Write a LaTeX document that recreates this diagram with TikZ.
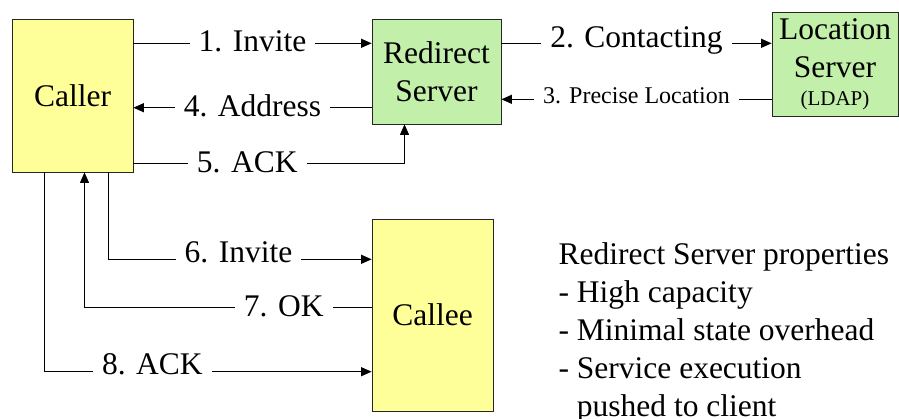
\documentclass[tikz,border=0pt]{standalone}
\usepackage{fontspec}
\setmainfont{Liberation Serif}
\usetikzlibrary{arrows.meta}

\definecolor{boxyellow}{RGB}{255,255,153}
\definecolor{boxgreen}{RGB}{194,240,170}

\tikzset{
    box/.style={draw=black!85, line width=0.8pt, align=center, inner sep=0pt},
    msg/.style={fill=white, inner xsep=9pt, inner ysep=1pt, text height=21pt, text depth=0pt},
    smallmsg/.style={msg, font=\fontsize{24}{28}\selectfont, text height=16pt},
}

\begin{document}
\begin{tikzpicture}[x=1pt, y=-1pt, line width=1.1pt, >={Triangle[length=10.5pt, width=9pt]},
        font=\fontsize{31.5}{38}\selectfont]
        \useasboundingbox (0,0) rectangle (899,418);

        \node[box, fill=boxyellow, minimum width=121pt, minimum height=153pt] (caller) at (72.5,95.5) {Caller};
        \node[box, fill=boxgreen, minimum width=129pt, minimum height=105pt] (redirect) at (436.5,71.5) {Redirect\\Server};
        \node[box, fill=boxgreen, minimum width=126pt, minimum height=104pt] (location) at (835,64)
            {Location\\Server\\[-10pt]{\fontsize{21}{25}\selectfont (LDAP)}};
        \node[box, fill=boxyellow, minimum width=121pt, minimum height=192pt] (callee) at (432.5,315) {Callee};

        \draw[->] (caller.east |- 0,43.3) -- node[msg, yshift=2.5pt] {1. Invite} (redirect.west |- 0,43.3);
        \draw[->] (redirect.east |- 0,43.3) -- node[msg, yshift=6.8pt] {2. Contacting} (location.west |- 0,43.3);
        \draw[->] (location.west |- 0,99.3) -- node[smallmsg, yshift=3.8pt] {3. Precise Location} (redirect.east |- 0,99.3);
        \draw[->] (redirect.west |- 0,107.7) -- node[msg, yshift=2pt] {4. Address} (caller.east |- 0,107.7);
        \draw[->] (caller.east |- 0,163.3) -| node[msg, pos=0.21, yshift=1.6pt] {5. ACK} ([xshift=-32pt]redirect.south);

        \draw[->] ([xshift=36pt]caller.south) |- node[msg, pos=0.747, yshift=7pt] {6. Invite} (callee.west |- 0,259.3);
        \draw[->] (callee.west |- 0,307.3) -| node[msg, pos=0.153, yshift=1.5pt] {7. OK} ([xshift=12pt]caller.south);
        \draw[->] ([xshift=-28pt]caller.south) |- node[msg, pos=0.665, yshift=7.5pt] {8. ACK} (callee.west |- 0,371.7);

        \node[anchor=north west, align=left, inner sep=0pt] (props) at (558,242)
            {Redirect Server properties\\- High capacity\\- Minimal state overhead\\- Service execution\\\phantom{- }pushed to client};
    \end{tikzpicture}
\end{document}
